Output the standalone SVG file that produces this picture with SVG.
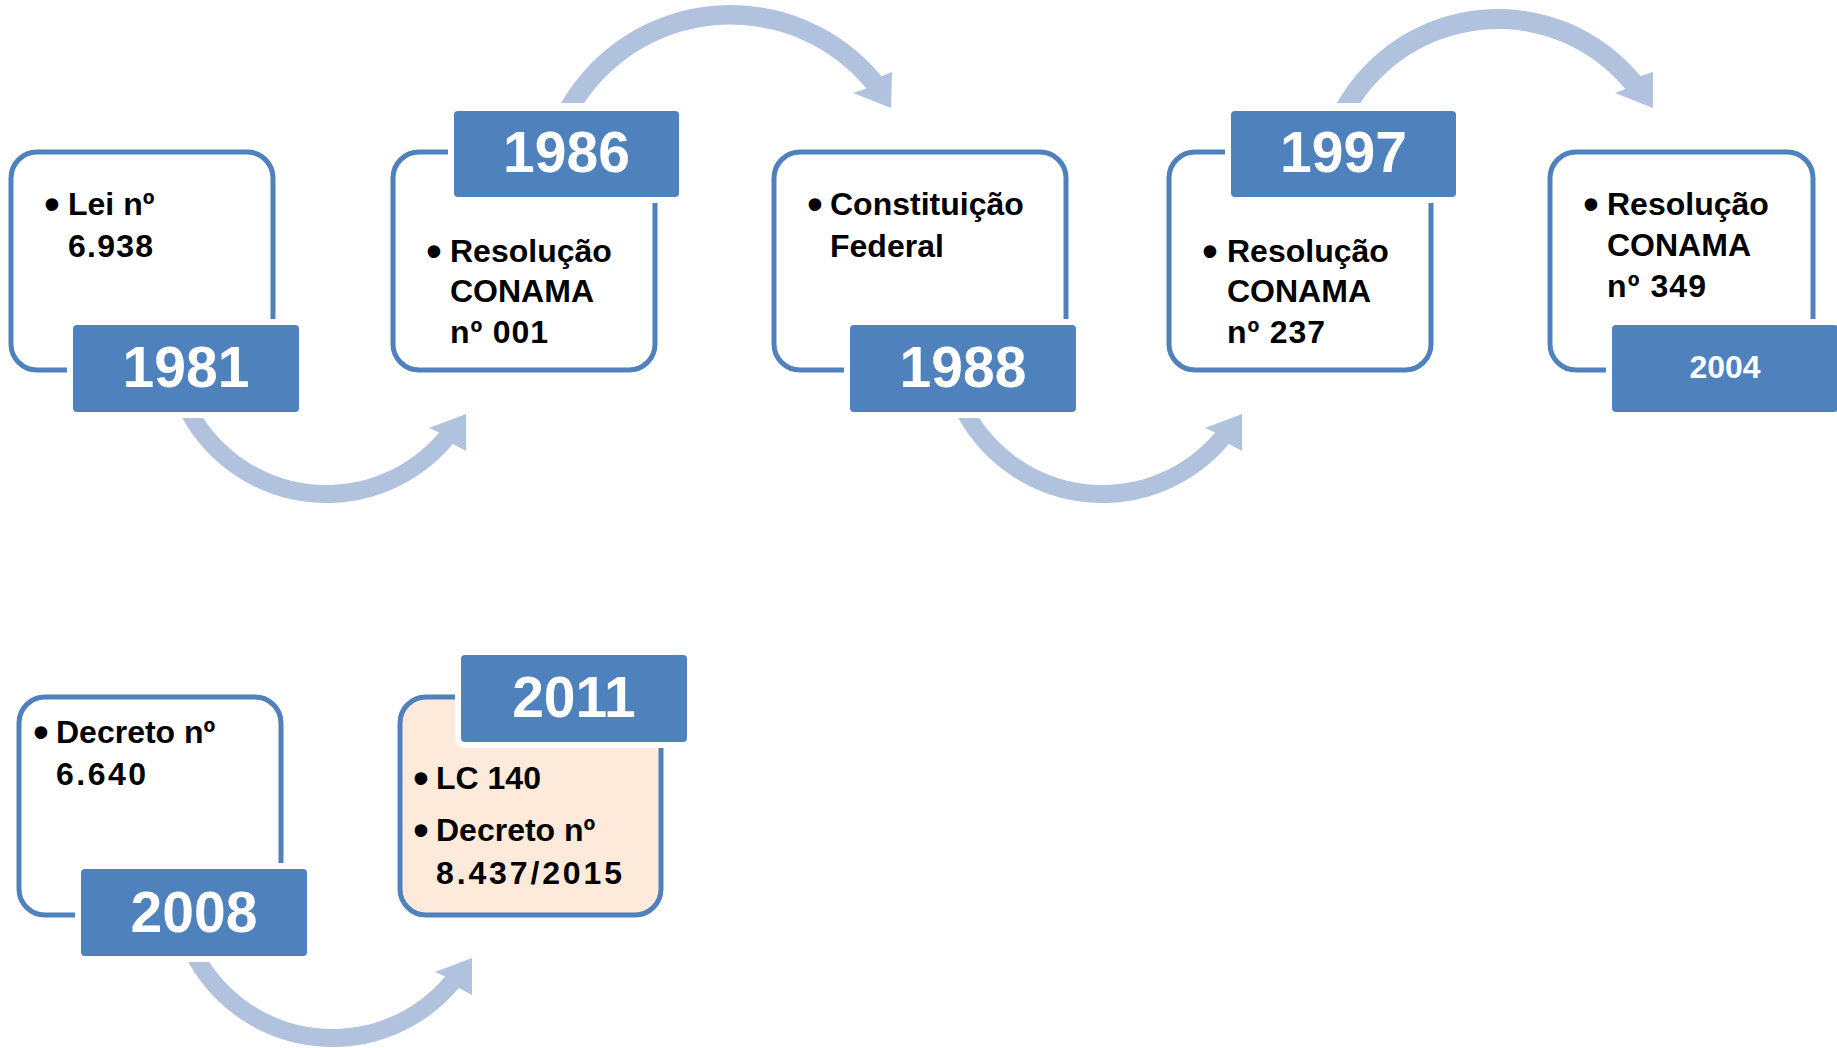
<svg xmlns="http://www.w3.org/2000/svg" width="1837" height="1048" viewBox="0 0 1837 1048">
<style>
.box{fill:#ffffff;stroke:#4F81BD;stroke-width:5}
.peach{fill:#FDEADA}
.yr{fill:#4F81BD}
.halo{fill:#ffffff}
.yt{font-family:"Liberation Sans",Arial,sans-serif;font-weight:bold;font-size:57px;fill:#ffffff;text-anchor:middle}
.ys{font-size:32px}
.ct{font-family:"Liberation Sans",Arial,sans-serif;font-weight:bold;font-size:32px;fill:#000000}
.bl{font-family:"Liberation Sans",Arial,sans-serif;font-weight:bold;font-size:44px;fill:#000000;text-anchor:middle}
.arr{fill:#B1C2DE}
</style>
<defs>
<path id="arrBottom" d="M182.2,418 A165,165 0 0,0 452.9,444.1 L466,451 L466,414 L429,428 L439.1,432.5 A147,147 0 0,1 203.2,418 Z"/>
</defs>
<rect x="0" y="0" width="1837" height="1048" fill="#ffffff"/>
<g id="connectors">
<use href="#arrBottom" class="arr"/>
<path class="arr" d="M561.1,103 A195.6,195.6 0 0,1 881.5,76.2 L892,72 L891,108 L853,93 L866.4,88.6 A176,176 0 0,0 584.1,103 Z"/>
<use href="#arrBottom" class="arr" transform="translate(776,0)"/>
<path class="arr" d="M1336.9,103 A185,185 0 0,1 1640.7,76.3 L1653,72 L1653,108 L1615,93 L1625.3,89 A165,165 0 0,0 1360.4,103 Z"/>
<use href="#arrBottom" class="arr" transform="translate(6,544)"/>
</g>
<g id="node-1981">
<rect class="box" x="11" y="152" width="262" height="218" rx="26"/>
<rect class="halo" x="67" y="319" width="238" height="99" rx="10"/>
<rect class="yr" x="73" y="325" width="226" height="87" rx="4"/>
<text class="yt" x="186" y="387">1981</text>
<text class="bl" x="52" y="219">•</text>
<text class="ct" x="68" y="215">Lei nº</text>
<text class="ct" x="68" y="257" textLength="85">6.938</text>
</g>
<g id="node-1986">
<rect class="box" x="393" y="152" width="262" height="218" rx="26"/>
<rect class="halo" x="448" y="105" width="237" height="98" rx="10"/>
<rect class="yr" x="454" y="111" width="225" height="86" rx="4"/>
<text class="yt" x="566.5" y="172">1986</text>
<text class="bl" x="434" y="266">•</text>
<text class="ct" x="450" y="262">Resolução</text>
<text class="ct" x="450" y="302">CONAMA</text>
<text class="ct" x="450" y="343" textLength="98">nº 001</text>
</g>
<g id="node-1988">
<rect class="box" x="774" y="152" width="292" height="218" rx="26"/>
<rect class="halo" x="844" y="319" width="238" height="99" rx="10"/>
<rect class="yr" x="850" y="325" width="226" height="87" rx="4"/>
<text class="yt" x="963" y="387">1988</text>
<text class="bl" x="815" y="219">•</text>
<text class="ct" x="830" y="215">Constituição</text>
<text class="ct" x="830" y="257">Federal</text>
</g>
<g id="node-1997">
<rect class="box" x="1169" y="152" width="262" height="218" rx="26"/>
<rect class="halo" x="1225" y="105" width="237" height="98" rx="10"/>
<rect class="yr" x="1231" y="111" width="225" height="86" rx="4"/>
<text class="yt" x="1343.5" y="172">1997</text>
<text class="bl" x="1210" y="266">•</text>
<text class="ct" x="1227" y="262">Resolução</text>
<text class="ct" x="1227" y="302">CONAMA</text>
<text class="ct" x="1227" y="343" textLength="98">nº 237</text>
</g>
<g id="node-2004">
<rect class="box" x="1550" y="152" width="263" height="218" rx="26"/>
<rect class="halo" x="1606" y="319" width="238" height="99" rx="10"/>
<rect class="yr" x="1612" y="325" width="226" height="87" rx="4"/>
<text class="yt ys" x="1725" y="378">2004</text>
<text class="bl" x="1591" y="219">•</text>
<text class="ct" x="1607" y="215">Resolução</text>
<text class="ct" x="1607" y="256">CONAMA</text>
<text class="ct" x="1607" y="297" textLength="99">nº 349</text>
</g>
<g id="node-2008">
<rect class="box" x="19" y="697" width="262" height="218" rx="26"/>
<rect class="halo" x="75" y="863" width="238" height="99" rx="10"/>
<rect class="yr" x="81" y="869" width="226" height="87" rx="4"/>
<text class="yt" x="194" y="932">2008</text>
<text class="bl" x="41" y="747">•</text>
<text class="ct" x="56" y="743">Decreto nº</text>
<text class="ct" x="56" y="785" textLength="90">6.640</text>
</g>
<g id="node-2011">
<rect class="box peach" x="400" y="697" width="261" height="218" rx="26"/>
<rect class="halo" x="455" y="649" width="238" height="99" rx="10"/>
<rect class="yr" x="461" y="655" width="226" height="87" rx="4"/>
<text class="yt" x="574" y="717">2011</text>
<text class="bl" x="421" y="793">•</text>
<text class="ct" x="436" y="789">LC 140</text>
<text class="bl" x="421" y="845">•</text>
<text class="ct" x="436" y="841">Decreto nº</text>
<text class="ct" x="436" y="884" textLength="186">8.437/2015</text>
</g>
</svg>
